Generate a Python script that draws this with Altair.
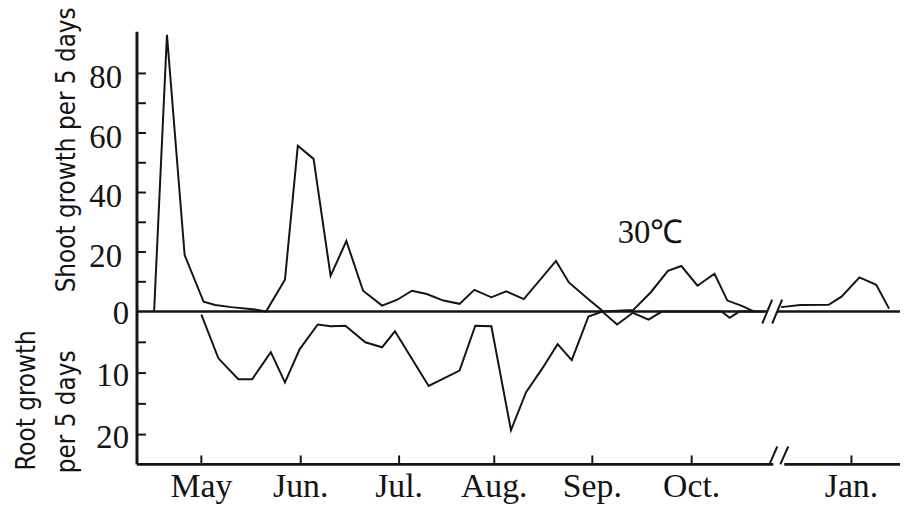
import altair as alt
import pandas as pd

# ---------------- data (x = days from start of record) ----------------
shoot_day = [1, 5, 10.5, 16.4, 20, 25, 32.4, 35.8, 41.7, 45.7, 50.6, 55.9, 60.8, 66, 71.9,
             76.5, 81.2, 85.8, 91, 96, 100.6, 105.9, 110.5, 116, 126, 130, 136, 140.7, 150,
             155.5, 160.8, 165, 170, 175.3, 179.3, 183.6, 187.7]
shoot_val = [0, 93, 19, 3.3, 2.2, 1.5, 0.7, 0, 10.7, 55.7, 51.3, 12, 23.7, 7, 2,
             3.9, 7, 5.9, 3.7, 2.6, 7.3, 4.8, 6.8, 4.2, 17, 9.8, 4.2, 0, 0.5,
             6.5, 13.7, 15.3, 8.7, 12.7, 3.7, 2, 0]

# after the axis break (January)
jan_shoot_day = [196, 202, 210.8, 214.8, 220.4, 225.6, 229.6]
jan_shoot_val = [1.5, 2.2, 2.3, 5, 11.5, 9, 1]

root_day = [15.7, 21, 27.2, 31.5, 37.3, 41.7, 46.3, 51.9, 55.9, 60.5, 66.7, 71.9, 75.9,
            86.4, 96, 100.9, 105.9, 112, 116.7, 121.8, 126.5, 130.9, 136.1, 140.4, 145,
            149.9, 154.8, 158.9, 177.5, 180, 183, 190.7]
root_val = [0.5, 7.6, 11, 11, 6.6, 11.5, 6.1, 2.1, 2.4, 2.3, 5, 5.8, 3.2,
            12.1, 9.6, 2.3, 2.4, 19.3, 13.1, 9.2, 5.3, 7.9, 0.8, 0, 2.1,
            0.2, 1.3, 0, 0, 1, 0, 0]

month_labels = ["May", "Jun.", "Jul.", "Aug.", "Sep.", "Oct.", "Jan."]
month_ticks = [15.7, 46.6, 77.2, 106.8, 137.3, 168.2, 217.9]

shoot_ticks = [10, 20, 30, 40, 50, 60, 70, 80]
shoot_labels = [20, 40, 60, 80]
root_ticks = [5, 10, 15, 20]
root_labels = [0, 10, 20]

annotation = "30℃"
annot_day, annot_val = [155.4], [26.5]

# axis break (days on the compressed axis)
zero_break = [191.7, 194.8]
xaxis_break = [193.6, 197.0]

# ---------------- layout ----------------
W, H = 769, 436
X_DOM = [-4.32, 233.0]
S_DOM = [-51.33, 94.0]
R_DOM = [-45.48, 24.84]
INK = "#141414"
NUM_FONT = "Liberation Serif"
TITLE_FONT = "DejaVu Sans Condensed, Liberation Sans Narrow, Roboto"

xs = alt.Scale(domain=X_DOM, nice=False, zero=False)
ys = alt.Scale(domain=S_DOM, nice=False, zero=False)
yr = alt.Scale(domain=R_DOM, nice=False, zero=False, reverse=True)

shoot_df = pd.concat([
    pd.DataFrame({"day": shoot_day, "val": shoot_val, "part": "a"}),
    pd.DataFrame({"day": jan_shoot_day, "val": jan_shoot_val, "part": "b"}),
])
root_df = pd.DataFrame({"day": root_day, "val": root_val})

shoot_line = alt.Chart(shoot_df).mark_line(color=INK, strokeWidth=2).encode(
    x=alt.X("day:Q", scale=xs, axis=None),
    y=alt.Y("val:Q", scale=ys, axis=None),
    detail="part:N",
)

zero_df = pd.DataFrame({"x0": [X_DOM[0], zero_break[1]], "x1": [zero_break[0], X_DOM[1]]})
zero_line = alt.Chart(zero_df).mark_rule(color=INK, strokeWidth=2.5).encode(
    x=alt.X("x0:Q", scale=xs, axis=None), x2="x1:Q",
    y=alt.Y(datum=0, scale=ys, axis=None),
)
zero_slash = alt.Chart(pd.DataFrame({"b": zero_break})).mark_rule(
    color=INK, strokeWidth=2, xOffset=-5, x2Offset=5, yOffset=12, y2Offset=-12).encode(
    x=alt.X("b:Q", scale=xs, axis=None), x2="b:Q",
    y=alt.Y(datum=0, scale=ys, axis=None), y2=alt.Y2(datum=0),
)

# y axis line and inward ticks
y_line = alt.Chart(pd.DataFrame({"k": [0]})).mark_rule(color=INK, strokeWidth=3).encode(
    x=alt.value(0), y=alt.value(0), y2=alt.value(H))
s_ticks = alt.Chart(pd.DataFrame({"t": shoot_ticks})).mark_rule(color=INK, strokeWidth=2).encode(
    x=alt.value(0), x2=alt.value(9), y=alt.Y("t:Q", scale=ys, axis=None))
s_labels = alt.Chart(pd.DataFrame({"t": shoot_labels})).mark_text(
    font=NUM_FONT, fontSize=33, color=INK, align="right", baseline="middle", dy=5).encode(
    x=alt.value(-15), y=alt.Y("t:Q", scale=ys, axis=None), text="t:Q")

annot = alt.Chart(pd.DataFrame({"day": annot_day, "val": annot_val, "txt": [annotation]})).mark_text(
    font=NUM_FONT, fontSize=33, color=INK).encode(
    x=alt.X("day:Q", scale=xs, axis=None), y=alt.Y("val:Q", scale=ys, axis=None), text="txt:N")

# x axis: line with break, inward ticks, month labels
x_ticks = alt.Chart(pd.DataFrame({"d": month_ticks})).mark_rule(color=INK, strokeWidth=2).encode(
    x=alt.X("d:Q", scale=xs, axis=None), y=alt.value(H), y2=alt.value(H - 9))
x_labels = alt.Chart(pd.DataFrame({"d": month_ticks, "lab": month_labels})).mark_text(
    font=NUM_FONT, fontSize=34, color=INK, align="center", baseline="top").encode(
    x=alt.X("d:Q", scale=xs, axis=None), y=alt.value(H + 6), text="lab:N")

xaxis_df = pd.DataFrame({"x0": [X_DOM[0], xaxis_break[1]], "x1": [xaxis_break[0], X_DOM[1]]})
x_line = alt.Chart(xaxis_df).mark_rule(color=INK, strokeWidth=3).encode(
    x=alt.X("x0:Q", scale=xs, axis=None), x2="x1:Q", y=alt.value(H))
x_slash = alt.Chart(pd.DataFrame({"b": xaxis_break})).mark_rule(
    color=INK, strokeWidth=2, xOffset=-4, x2Offset=4).encode(
    x=alt.X("b:Q", scale=xs, axis=None), x2="b:Q", y=alt.value(H), y2=alt.value(H - 18))


def vtitle(txt, px, py):
    return alt.Chart(pd.DataFrame({"k": [0]})).mark_text(
        angle=270, font=TITLE_FONT, fontSize=26, color=INK, baseline="middle", align="center"
    ).encode(x=alt.value(px), y=alt.value(py), text=alt.value(txt))


t1 = vtitle("Shoot  growth per  5 days", -70.5, 119)
t2 = vtitle("Root  growth", -110.5, 371.5)
t3 = vtitle("per 5 days", -70.5, 383)

shoot_group = alt.layer(shoot_line, zero_line, zero_slash, y_line, s_ticks, s_labels, annot,
                        x_ticks, x_labels, x_line, x_slash, t1, t2, t3)

root_line = alt.Chart(root_df).mark_line(color=INK, strokeWidth=2).encode(
    x=alt.X("day:Q", scale=xs, axis=None),
    y=alt.Y("val:Q", scale=yr, axis=None),
)
r_ticks = alt.Chart(pd.DataFrame({"t": root_ticks})).mark_rule(color=INK, strokeWidth=2).encode(
    x=alt.value(0), x2=alt.value(9), y=alt.Y("t:Q", scale=yr, axis=None))
r_labels = alt.Chart(pd.DataFrame({"t": root_labels})).mark_text(
    font=NUM_FONT, fontSize=33, color=INK, align="right", baseline="middle", dy=3).encode(
    x=alt.value(-8), y=alt.Y("t:Q", scale=yr, axis=None), text="t:Q")

root_group = alt.layer(root_line, r_ticks, r_labels)

chart = alt.layer(shoot_group, root_group).resolve_scale(y="independent").properties(
    width=W, height=H,
    padding={"left": 130, "top": 22, "right": 2, "bottom": 42},
    autosize=alt.AutoSizeParams(type="none"),
    background="white",
).configure_view(stroke=None)

chart.save("out.html", embed_options={"renderer": "svg", "actions": False})
